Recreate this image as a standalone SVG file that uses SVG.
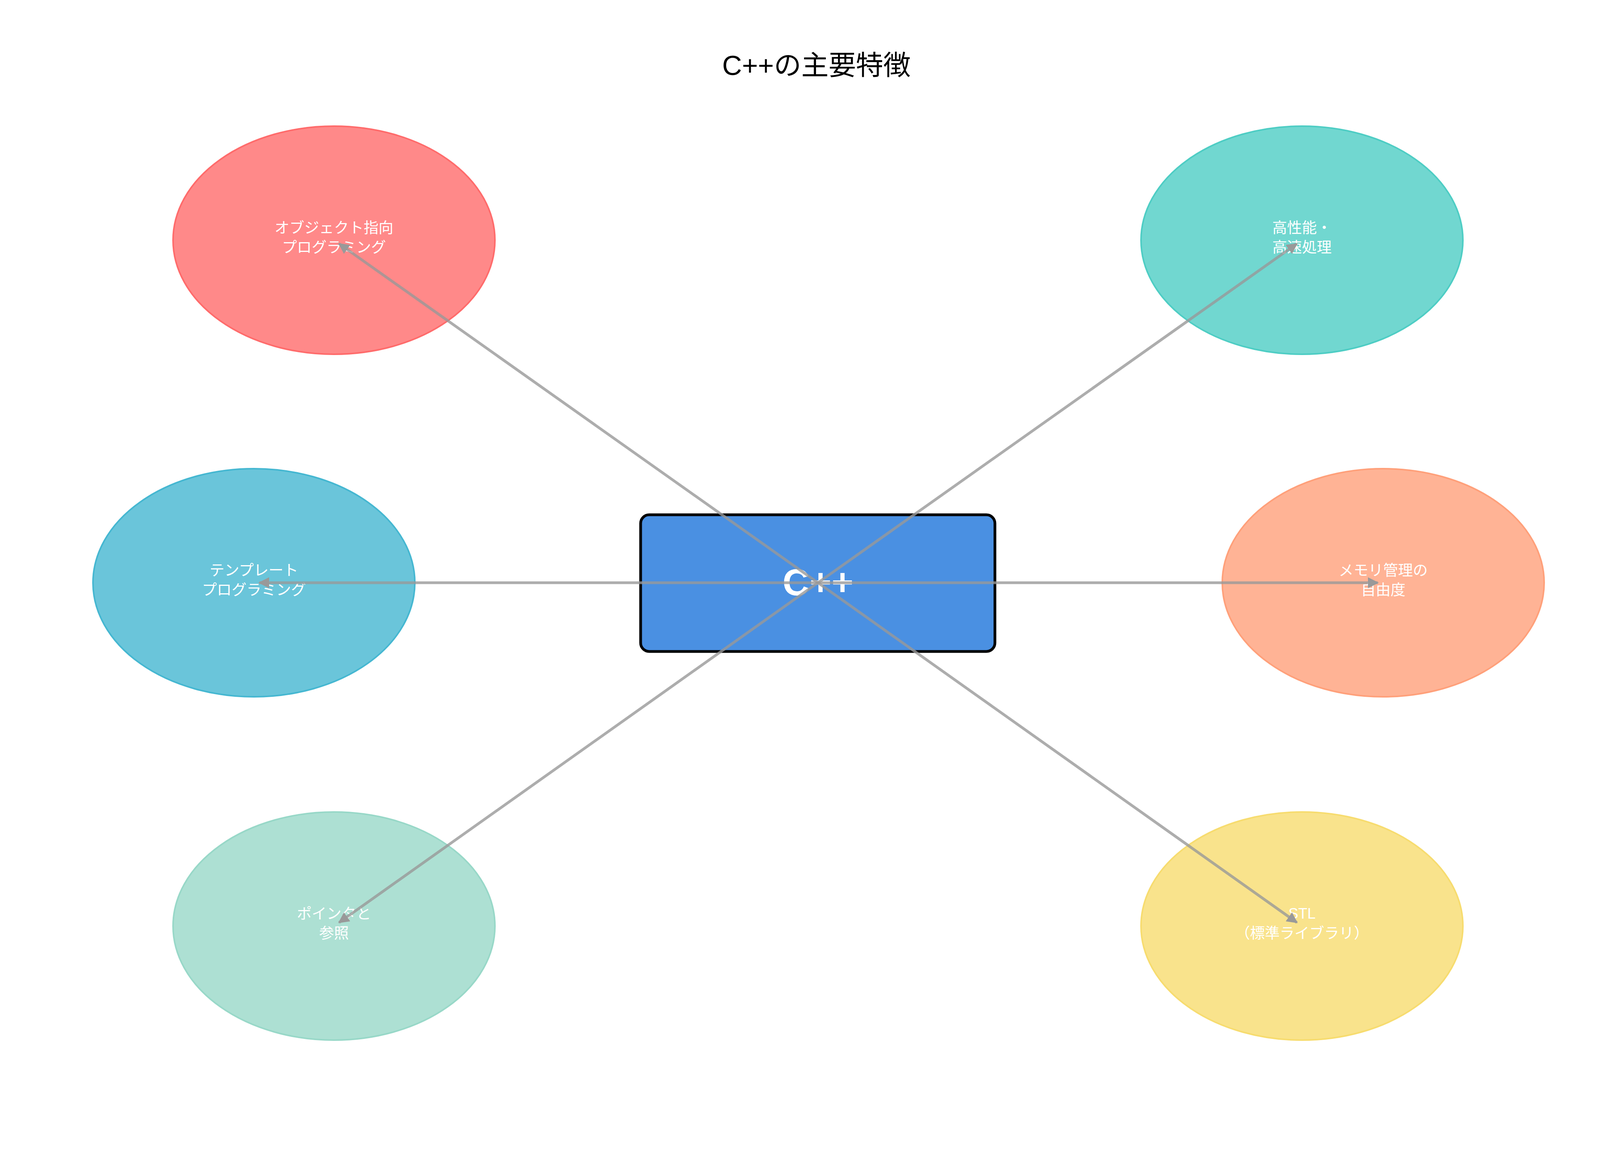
<svg xmlns="http://www.w3.org/2000/svg" width="4170" height="2970" viewBox="0 0 4170 2970">
<style>
text{font-family:"Liberation Sans","Noto Sans CJK JP",sans-serif;text-anchor:middle}
.t{fill:#fff;font-size:38px}
.e{stroke-width:4}
.c{stroke:#999;stroke-opacity:0.8;stroke-width:7;fill:none;marker-end:url(#a)}
</style>
<defs><marker id="a" viewBox="0 0 10 10" refX="9" refY="5" markerWidth="4" markerHeight="4" orient="auto"><path d="M0,0L10,5L0,10z" fill="#999"/></marker></defs>
<rect width="4170" height="2970" fill="#fff"/>
<text x="2090" y="192" font-size="70">C++の主要特徴</text>
<g id="n1"><ellipse class="e" cx="855" cy="615" rx="412" ry="292" fill="#FF6B6B" fill-opacity="0.8" stroke="#FF6B6B"/><text class="t" x="855" y="596">オブジェクト指向</text><text class="t" x="855" y="646">プログラミング</text></g>
<g id="n2"><ellipse class="e" cx="3333" cy="615" rx="412" ry="292" fill="#4ECDC4" fill-opacity="0.8" stroke="#4ECDC4"/><text class="t" x="3333" y="596">高性能・</text><text class="t" x="3333" y="646">高速処理</text></g>
<g id="n3"><ellipse class="e" cx="650" cy="1492" rx="412" ry="292" fill="#45B7D1" fill-opacity="0.8" stroke="#45B7D1"/><text class="t" x="650" y="1473">テンプレート</text><text class="t" x="650" y="1523">プログラミング</text></g>
<g id="n4"><ellipse class="e" cx="3541" cy="1492" rx="412" ry="292" fill="#FFA07A" fill-opacity="0.8" stroke="#FFA07A"/><text class="t" x="3541" y="1473">メモリ管理の</text><text class="t" x="3541" y="1523">自由度</text></g>
<g id="n5"><ellipse class="e" cx="855" cy="2371" rx="412" ry="292" fill="#98D8C8" fill-opacity="0.8" stroke="#98D8C8"/><text class="t" x="855" y="2352">ポインタと</text><text class="t" x="855" y="2402">参照</text></g>
<g id="n6"><ellipse class="e" cx="3333" cy="2371" rx="412" ry="292" fill="#F7DC6F" fill-opacity="0.8" stroke="#F7DC6F"/><text class="t" x="3333" y="2352">STL</text><text class="t" x="3333" y="2402">（標準ライブラリ）</text></g>
<g id="center"><rect x="1640" y="1318" width="907" height="350" rx="22" fill="#4A90E2" stroke="#000" stroke-width="7"/><text x="2094" y="1524" font-size="96" font-weight="bold" fill="#fff">C++</text></g>
<g id="connectors">
<line class="c" x1="2094" y1="1492" x2="868" y2="624"/>
<line class="c" x1="2094" y1="1492" x2="3320" y2="624"/>
<line class="c" x1="2094" y1="1492" x2="664" y2="1492"/>
<line class="c" x1="2094" y1="1492" x2="3527" y2="1492"/>
<line class="c" x1="2094" y1="1492" x2="868" y2="2362"/>
<line class="c" x1="2094" y1="1492" x2="3320" y2="2362"/>
</g>
</svg>
